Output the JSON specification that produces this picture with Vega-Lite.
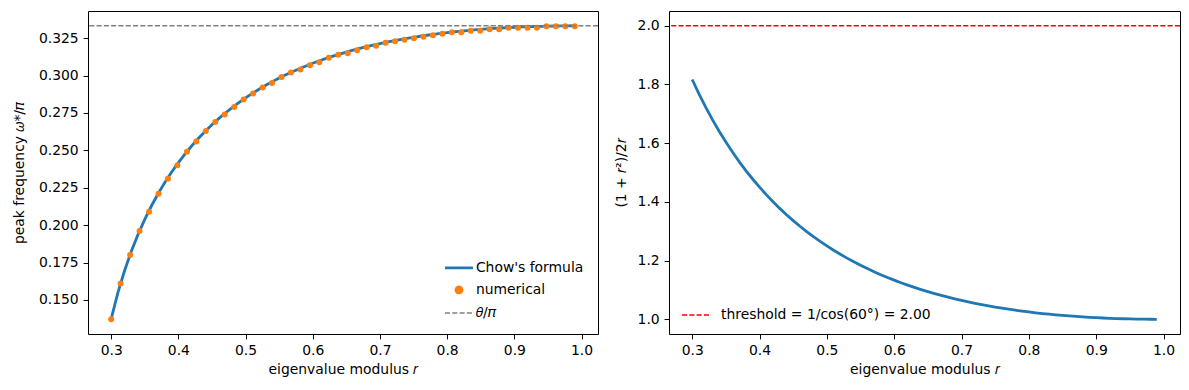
{
  "$schema": "https://vega.github.io/schema/vega-lite/v6.json",
  "background": "white",
  "padding": {"left": 11, "top": 10, "right": 9, "bottom": 5},
  "spacing": 71,
  "bounds": "flush",
  "config": {
    "font": "DejaVu Sans",
    "view": {"stroke": "#000000", "strokeWidth": 1},
    "axis": {
      "domain": false,
      "grid": false,
      "ticks": true,
      "tickColor": "#000000",
      "tickSize": 4.9,
      "tickWidth": 1,
      "labelPadding": 4.9,
      "labelFont": "DejaVu Sans",
      "labelFontSize": 13.9,
      "labelColor": "#000000",
      "titleFont": "DejaVu Sans",
      "titleFontSize": 13.9,
      "titleFontWeight": "normal",
      "titleColor": "#000000",
      "titlePadding": 5
    },
    "legend": {
      "labelFont": "DejaVu Sans",
      "labelFontSize": 13.9,
      "labelColor": "#000000",
      "labelLimit": 400
    }
  },
  "datasets": {
    "chow": [
      {"r":0.30,"w":0.13736,"q":1.816667},{"r":0.31,"w":0.15487,"q":1.767903},{"r":0.32,"w":0.16968,"q":1.7225},
      {"r":0.33,"w":0.18251,"q":1.680152},{"r":0.34,"w":0.19381,"q":1.640588},{"r":0.35,"w":0.20388,"q":1.603571},
      {"r":0.36,"w":0.21295,"q":1.568889},{"r":0.37,"w":0.22116,"q":1.536351},{"r":0.38,"w":0.22866,"q":1.505789},
      {"r":0.39,"w":0.23552,"q":1.477051},{"r":0.40,"w":0.24184,"q":1.45},{"r":0.41,"w":0.24768,"q":1.424512},
      {"r":0.42,"w":0.25308,"q":1.400476},{"r":0.43,"w":0.2581,"q":1.377791},{"r":0.44,"w":0.26277,"q":1.356364},
      {"r":0.45,"w":0.26713,"q":1.336111},{"r":0.46,"w":0.2712,"q":1.316957},{"r":0.47,"w":0.27501,"q":1.29883},
      {"r":0.48,"w":0.27859,"q":1.281667},{"r":0.49,"w":0.28194,"q":1.265408},{"r":0.50,"w":0.2851,"q":1.25},
      {"r":0.51,"w":0.28807,"q":1.235392},{"r":0.52,"w":0.29086,"q":1.221538},{"r":0.53,"w":0.29349,"q":1.208396},
      {"r":0.54,"w":0.29598,"q":1.195926},{"r":0.55,"w":0.29832,"q":1.184091},{"r":0.56,"w":0.30054,"q":1.172857},
      {"r":0.57,"w":0.30263,"q":1.162193},{"r":0.58,"w":0.3046,"q":1.152069},{"r":0.59,"w":0.30647,"q":1.142458},
      {"r":0.60,"w":0.30823,"q":1.133333},{"r":0.61,"w":0.3099,"q":1.124672},{"r":0.62,"w":0.31148,"q":1.116452},
      {"r":0.63,"w":0.31298,"q":1.108651},{"r":0.64,"w":0.31439,"q":1.10125},{"r":0.65,"w":0.31573,"q":1.094231},
      {"r":0.66,"w":0.31699,"q":1.087576},{"r":0.67,"w":0.31818,"q":1.081269},{"r":0.68,"w":0.31931,"q":1.075294},
      {"r":0.69,"w":0.32038,"q":1.069638},{"r":0.70,"w":0.32139,"q":1.064286},{"r":0.71,"w":0.32234,"q":1.059225},
      {"r":0.72,"w":0.32323,"q":1.054444},{"r":0.73,"w":0.32408,"q":1.049932},{"r":0.74,"w":0.32487,"q":1.045676},
      {"r":0.75,"w":0.32562,"q":1.041667},{"r":0.76,"w":0.32632,"q":1.037895},{"r":0.77,"w":0.32698,"q":1.03435},
      {"r":0.78,"w":0.3276,"q":1.031026},{"r":0.79,"w":0.32818,"q":1.027911},{"r":0.80,"w":0.32872,"q":1.025},
      {"r":0.81,"w":0.32922,"q":1.022284},{"r":0.82,"w":0.32969,"q":1.019756},{"r":0.83,"w":0.33012,"q":1.01741},
      {"r":0.84,"w":0.33053,"q":1.015238},{"r":0.85,"w":0.3309,"q":1.013235},{"r":0.86,"w":0.33124,"q":1.011395},
      {"r":0.87,"w":0.33155,"q":1.009713},{"r":0.88,"w":0.33183,"q":1.008182},{"r":0.89,"w":0.33208,"q":1.006798},
      {"r":0.90,"w":0.33231,"q":1.005556},{"r":0.91,"w":0.33252,"q":1.00445},{"r":0.92,"w":0.33269,"q":1.003478},
      {"r":0.93,"w":0.33285,"q":1.002634},{"r":0.94,"w":0.33298,"q":1.001915},{"r":0.95,"w":0.33309,"q":1.001316},
      {"r":0.96,"w":0.33318,"q":1.000833},{"r":0.97,"w":0.33325,"q":1.000464},{"r":0.98,"w":0.3333,"q":1.000204},
      {"r":0.99,"w":0.33332,"q":1.000051}
    ],
    "num": [
      {"r":0.300000,"w":0.137},{"r":0.314082,"w":0.161},{"r":0.328163,"w":0.180},{"r":0.342245,"w":0.196},
      {"r":0.356327,"w":0.209},{"r":0.370408,"w":0.221},{"r":0.384490,"w":0.231},{"r":0.398571,"w":0.240},
      {"r":0.412653,"w":0.249},{"r":0.426735,"w":0.256},{"r":0.440816,"w":0.263},{"r":0.454898,"w":0.269},
      {"r":0.468980,"w":0.274},{"r":0.483061,"w":0.279},{"r":0.497143,"w":0.284},{"r":0.511224,"w":0.288},
      {"r":0.525306,"w":0.292},{"r":0.539388,"w":0.295},{"r":0.553469,"w":0.299},{"r":0.567551,"w":0.302},
      {"r":0.581633,"w":0.304},{"r":0.595714,"w":0.307},{"r":0.609796,"w":0.309},{"r":0.623878,"w":0.312},
      {"r":0.637959,"w":0.314},{"r":0.652041,"w":0.315},{"r":0.666122,"w":0.317},{"r":0.680204,"w":0.319},
      {"r":0.694286,"w":0.320},{"r":0.708367,"w":0.322},{"r":0.722449,"w":0.323},{"r":0.736531,"w":0.324},
      {"r":0.750612,"w":0.325},{"r":0.764694,"w":0.326},{"r":0.778776,"w":0.327},{"r":0.792857,"w":0.328},
      {"r":0.806939,"w":0.329},{"r":0.821020,"w":0.329},{"r":0.835102,"w":0.330},{"r":0.849184,"w":0.330},
      {"r":0.863265,"w":0.331},{"r":0.877347,"w":0.331},{"r":0.891429,"w":0.332},{"r":0.905510,"w":0.332},
      {"r":0.919592,"w":0.332},{"r":0.933673,"w":0.332},{"r":0.947755,"w":0.333},{"r":0.961837,"w":0.333},
      {"r":0.975918,"w":0.333},{"r":0.990000,"w":0.333}
    ],
    "theta": [{"w":0.3333333}],
    "thr": [{"q":2.0}]
  },
  "resolve": {"scale": {"x": "independent", "y": "independent", "color": "independent"}},
  "hconcat": [
    {
      "width": 510,
      "height": 323,
      "layer": [
        {
          "data": {"name": "chow"},
          "mark": {"type": "line", "strokeWidth": 2.8},
          "encoding": {
            "x": {"field": "r", "type": "quantitative",
                  "scale": {"domain": [0.2655, 1.0245], "nice": false, "zero": false},
                  "axis": {"values": [0.3,0.4,0.5,0.6,0.7,0.8,0.9,1.0], "format": ".1f", "title": "eigenvalue modulus 𝑟"}},
            "y": {"field": "w", "type": "quantitative",
                  "scale": {"domain": [0.1272, 0.3432], "nice": false, "zero": false},
                  "axis": {"values": [0.15,0.175,0.2,0.225,0.25,0.275,0.3,0.325], "format": ".3f", "title": "peak frequency 𝜔*/𝜋", "titlePadding": 12}},
            "color": {"datum": "Chow's formula", "type": "nominal",
                      "scale": {"domain": ["Chow's formula", "numerical", "𝜃/𝜋"], "range": ["#1f77b4", "#ff7f0e", "#808080"]},
                      "legend": {
                        "title": null, "orient": "bottom-right", "offset": 14, "padding": 0,
                        "symbolSize": 784, "symbolType": "stroke", "labelOffset": 10, "rowPadding": 6,
                        "labelFontSize": 13.9, "labelColor": "#000000",
                        "encode": {"symbols": {"update": {
                          "shape": {"signal": "datum.value === 'numerical' ? 'circle' : 'stroke'"},
                          "size": {"signal": "datum.value === 'numerical' ? 36 : 784"},
                          "fill": {"signal": "datum.value === 'numerical' ? '#ff7f0e' : 'transparent'"},
                          "stroke": {"signal": "datum.value === 'numerical' ? 'transparent' : (datum.value === '𝜃/𝜋' ? '#808080' : '#1f77b4')"},
                          "strokeWidth": {"signal": "datum.value === '𝜃/𝜋' ? 1.4 : 2.8"},
                          "strokeDash": {"signal": "datum.value === '𝜃/𝜋' ? [5.1, 2.2] : [1, 0]"},
                          "opacity": {"value": 1}
                        }}}
                      }}
          }
        },
        {
          "data": {"name": "num"},
          "mark": {"type": "circle", "size": 36, "opacity": 1},
          "encoding": {
            "x": {"field": "r", "type": "quantitative", "axis": {"title": "eigenvalue modulus 𝑟"}},
            "y": {"field": "w", "type": "quantitative", "axis": {"title": "peak frequency 𝜔*/𝜋", "titlePadding": 12}},
            "color": {"datum": "numerical", "type": "nominal"}
          }
        },
        {
          "data": {"name": "theta"},
          "mark": {"type": "rule", "strokeWidth": 1.4, "strokeDash": [5.1, 2.2]},
          "encoding": {
            "y": {"field": "w", "type": "quantitative", "axis": {"title": "peak frequency 𝜔*/𝜋", "titlePadding": 12}},
            "color": {"datum": "𝜃/𝜋", "type": "nominal"}
          }
        }
      ]
    },
    {
      "width": 511,
      "height": 323,
      "layer": [
        {
          "data": {"name": "chow"},
          "mark": {"type": "line", "strokeWidth": 2.8, "color": "#1f77b4"},
          "encoding": {
            "x": {"field": "r", "type": "quantitative",
                  "scale": {"domain": [0.2655, 1.0245], "nice": false, "zero": false},
                  "axis": {"values": [0.3,0.4,0.5,0.6,0.7,0.8,0.9,1.0], "format": ".1f", "title": "eigenvalue modulus 𝑟"}},
            "y": {"field": "q", "type": "quantitative",
                  "scale": {"domain": [0.95, 2.05], "nice": false, "zero": false},
                  "axis": {"values": [1.0,1.2,1.4,1.6,1.8,2.0], "format": ".1f", "title": "(1 + 𝑟²)/2𝑟", "titlePadding": 9}}
          }
        },
        {
          "data": {"name": "thr"},
          "mark": {"type": "rule", "strokeWidth": 1.4, "strokeDash": [5.1, 2.2]},
          "encoding": {
            "y": {"field": "q", "type": "quantitative", "axis": {"title": "(1 + 𝑟²)/2𝑟", "titlePadding": 9}},
            "color": {"datum": "threshold = 1/cos(60°) = 2.00", "type": "nominal",
                      "scale": {"range": ["#ff0000"]},
                      "legend": {
                        "title": null, "orient": "bottom-left", "offset": 12, "padding": 0,
                        "symbolType": "stroke", "symbolSize": 784, "symbolStrokeWidth": 1.4,
                        "symbolDash": [5.1, 2.2], "symbolStrokeColor": "#ff0000", "labelOffset": 10,
                        "labelFontSize": 13.9, "labelColor": "#000000", "labelLimit": 400
                      }}
          }
        }
      ]
    }
  ]
}
